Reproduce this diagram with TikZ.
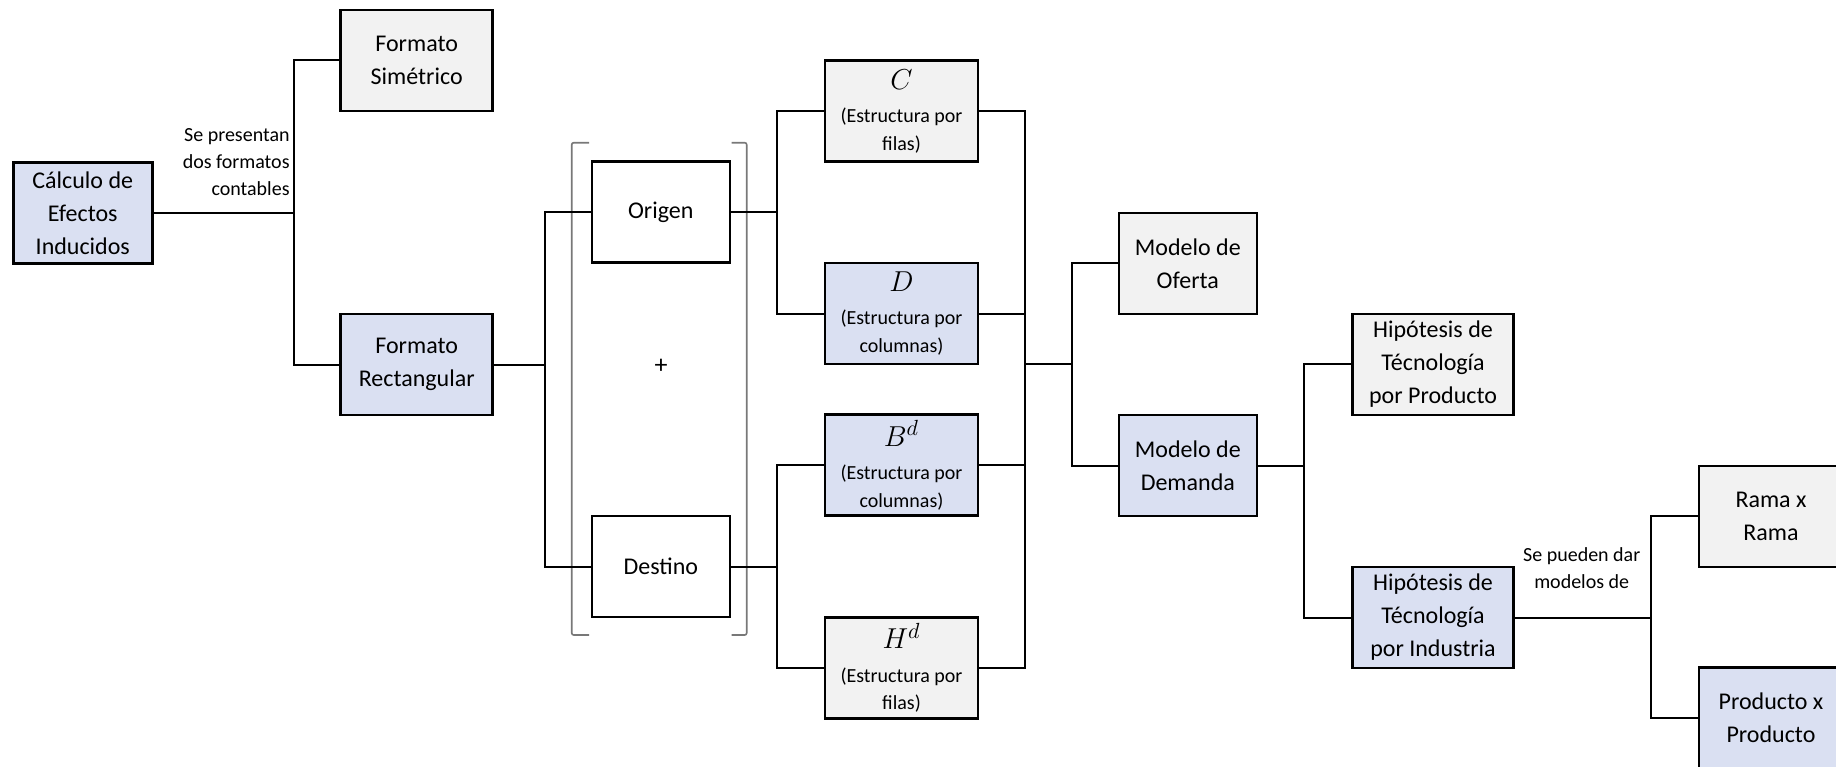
\documentclass[tikz,border=0pt]{standalone}
\usepackage{fontspec}
\setmainfont{Carlito}
\definecolor{boxblue}{RGB}{218,224,242}
\definecolor{boxgray}{RGB}{242,242,242}
\definecolor{brkgray}{RGB}{120,120,120}
\tikzset{
  box/.style={draw=black, line width=1.3pt, minimum height=50.5pt, inner sep=0pt, align=center, font=\fontsize{12}{16.5}\selectfont},
  mbox/.style={box, minimum width=76.5pt, font=\fontsize{10}{13.75}\selectfont},
  conn/.style={draw=black, line width=1pt, line join=miter},
  brk/.style={draw=brkgray, line width=0.8pt, rounded corners=1pt},
  lbl/.style={inner sep=0pt, font=\fontsize{10}{13.5}\selectfont},
}
\newcommand{\mymathbig}[1]{{\fontsize{15}{16}\selectfont$#1$}}
\begin{document}
\begin{tikzpicture}[x=0.5pt,y=-0.5pt]
\useasboundingbox (0,0) rectangle (1836,766);
\clip (0,0) rectangle (1836,766);
% brackets
\draw[brk] (589,142.7) -- (571.7,142.7) -- (571.7,635) -- (589,635);
\draw[brk] (731.7,142.7) -- (746.7,142.7) -- (746.7,635) -- (731.7,635);
% nodes
\node[box,fill=boxblue,minimum width=69.5pt] (calc) at (82.8,212.8) {Cálculo de\\Efectos\\Inducidos};
\node[box,fill=boxgray,minimum width=76pt] (sim) at (416.7,60.3) {Formato\\Simétrico};
\node[box,fill=boxblue,minimum width=76pt] (rect) at (416.7,364.5) {Formato\\Rectangular};
\node[box,fill=white,minimum width=69pt] (orig) at (660.8,212) {Origen};
\node[box,fill=white,minimum width=69pt] (dest) at (660.8,566.5) {Destino};
\node[mbox,fill=boxgray] (C) at (901.5,111.2) {\mymathbig{C}\\[3pt](Estructura por\\filas)};
\node[mbox,fill=boxblue] (D) at (901.5,313.5) {\mymathbig{D}\\[3pt](Estructura por\\columnas)};
\node[mbox,fill=boxblue] (Bd) at (901.5,465.2) {\mymathbig{B^d}\\[3pt](Estructura por\\columnas)};
\node[mbox,fill=boxgray] (Hd) at (901.5,667.7) {\mymathbig{H^d}\\[3pt](Estructura por\\filas)};
\node[box,fill=boxgray,minimum width=69pt] (of) at (1187.8,263.3) {Modelo de\\Oferta};
\node[box,fill=boxblue,minimum width=69pt] (dem) at (1187.8,465.5) {Modelo de\\Demanda};
\node[box,fill=boxgray,minimum width=80.3pt] (hp) at (1433,364.3) {Hipótesis de\\Técnología\\por Producto};
\node[box,fill=boxblue,minimum width=80.3pt] (hi) at (1433,617.5) {Hipótesis de\\Técnología\\por Industria};
\node[box,fill=boxgray,minimum width=72pt] (rama) at (1771,516.3) {Rama x\\Rama};
\node[box,fill=boxblue,minimum width=72pt] (prod) at (1771,718.2) {Producto x\\Producto};
\node[inner sep=0pt,font=\fontsize{13}{14}\selectfont] (plus) at (661,366) {+};
\node[lbl,anchor=east,align=right] (l1) at (290,162) {Se presentan\\dos formatos\\contables};
\node[lbl,align=center] (l2) at (1581.7,568) {Se pueden dar\\modelos de};
% junctions
\coordinate (j1) at (294,212.8);
\coordinate (j2) at (545,364.5);
\coordinate (j3) at (776.7,212);
\coordinate (j4) at (776.7,566.5);
\coordinate (j5) at (1025,363.7);
\coordinate (j6) at (1071.7,363.7);
\coordinate (j7) at (1304,465.5);
\coordinate (j8) at (1650.7,617.5);
% connectors
\draw[conn] (calc.east) -- (j1);
\draw[conn] (sim.west) -| (j1);
\draw[conn] (rect.west) -| (j1);
\draw[conn] (rect.east) -- (j2);
\draw[conn] (orig.west) -| (j2);
\draw[conn] (dest.west) -| (j2);
\draw[conn] (orig.east) -- (j3);
\draw[conn] (C.west) -| (j3);
\draw[conn] (D.west) -| (j3);
\draw[conn] (dest.east) -- (j4);
\draw[conn] (Bd.west) -| (j4);
\draw[conn] (Hd.west) -| (j4);
\draw[conn] (C.east) -| (j5);
\draw[conn] (D.east) -| (j5);
\draw[conn] (Bd.east) -| (j5);
\draw[conn] (Hd.east) -| (j5);
\draw[conn] (j5) -- (j6);
\draw[conn] (of.west) -| (j6);
\draw[conn] (dem.west) -| (j6);
\draw[conn] (dem.east) -- (j7);
\draw[conn] (hp.west) -| (j7);
\draw[conn] (hi.west) -| (j7);
\draw[conn] (hi.east) -- (j8);
\draw[conn] (rama.west) -| (j8);
\draw[conn] (prod.west) -| (j8);
\end{tikzpicture}
\end{document}
